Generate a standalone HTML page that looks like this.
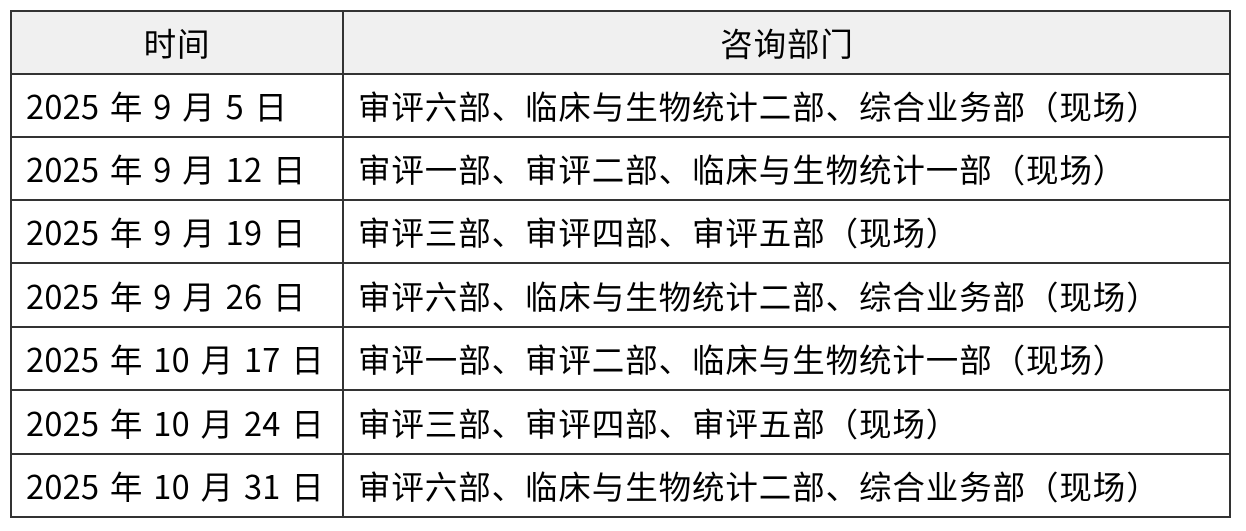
<!DOCTYPE html>
<html><head><meta charset="utf-8"><style>
body{margin:0;background:#fff;width:1246px;height:531px;position:relative;overflow:hidden;font-family:"Noto Sans CJK SC","Liberation Sans",sans-serif;color:#000;}
.c{position:absolute;box-sizing:border-box;display:flex;align-items:center;font-size:32.5px;white-space:nowrap;letter-spacing:0.9px;}
.d{word-spacing:3px;letter-spacing:0.3px;}
.h{background:#f0f0f0;justify-content:center;}
.l{position:absolute;background:#333;}
</style></head><body>
<div class="c h" style="left:11px;top:11px;width:332px;height:63px;">时间</div>
<div class="c h" style="left:344px;top:11px;width:886px;height:63px;">咨询部门</div>

<div class="c d" style="left:26px;top:74px;height:63px;">2025 年 9 月 5 日</div>
<div class="c" style="left:358px;top:74px;height:63px;">审评六部、临床与生物统计二部、综合业务部（现场）</div>
<div class="c d" style="left:26px;top:137px;height:63px;">2025 年 9 月 12 日</div>
<div class="c" style="left:358px;top:137px;height:63px;">审评一部、审评二部、临床与生物统计一部（现场）</div>
<div class="c d" style="left:26px;top:200px;height:63px;">2025 年 9 月 19 日</div>
<div class="c" style="left:358px;top:200px;height:63px;">审评三部、审评四部、审评五部（现场）</div>
<div class="c d" style="left:26px;top:263px;height:64px;">2025 年 9 月 26 日</div>
<div class="c" style="left:358px;top:263px;height:64px;">审评六部、临床与生物统计二部、综合业务部（现场）</div>
<div class="c d" style="left:26px;top:327px;height:63px;">2025 年 10 月 17 日</div>
<div class="c" style="left:358px;top:327px;height:63px;">审评一部、审评二部、临床与生物统计一部（现场）</div>
<div class="c d" style="left:26px;top:390px;height:64px;">2025 年 10 月 24 日</div>
<div class="c" style="left:358px;top:390px;height:64px;">审评三部、审评四部、审评五部（现场）</div>
<div class="c d" style="left:26px;top:454px;height:63px;">2025 年 10 月 31 日</div>
<div class="c" style="left:358px;top:454px;height:63px;">审评六部、临床与生物统计二部、综合业务部（现场）</div>

<div class="l" style="left:10px;top:10px;width:2px;height:508px;"></div>
<div class="l" style="left:1229px;top:10px;width:2px;height:508px;"></div>
<div class="l" style="left:342px;top:10px;width:2px;height:508px;"></div>
<div class="l" style="left:10px;top:10px;width:1221px;height:2px;"></div>
<div class="l" style="left:10px;top:73px;width:1221px;height:2px;"></div>
<div class="l" style="left:10px;top:136px;width:1221px;height:2px;"></div>
<div class="l" style="left:10px;top:199px;width:1221px;height:2px;"></div>
<div class="l" style="left:10px;top:262px;width:1221px;height:2px;"></div>
<div class="l" style="left:10px;top:326px;width:1221px;height:2px;"></div>
<div class="l" style="left:10px;top:389px;width:1221px;height:2px;"></div>
<div class="l" style="left:10px;top:453px;width:1221px;height:2px;"></div>
<div class="l" style="left:10px;top:516px;width:1221px;height:2px;"></div>
</body></html>
